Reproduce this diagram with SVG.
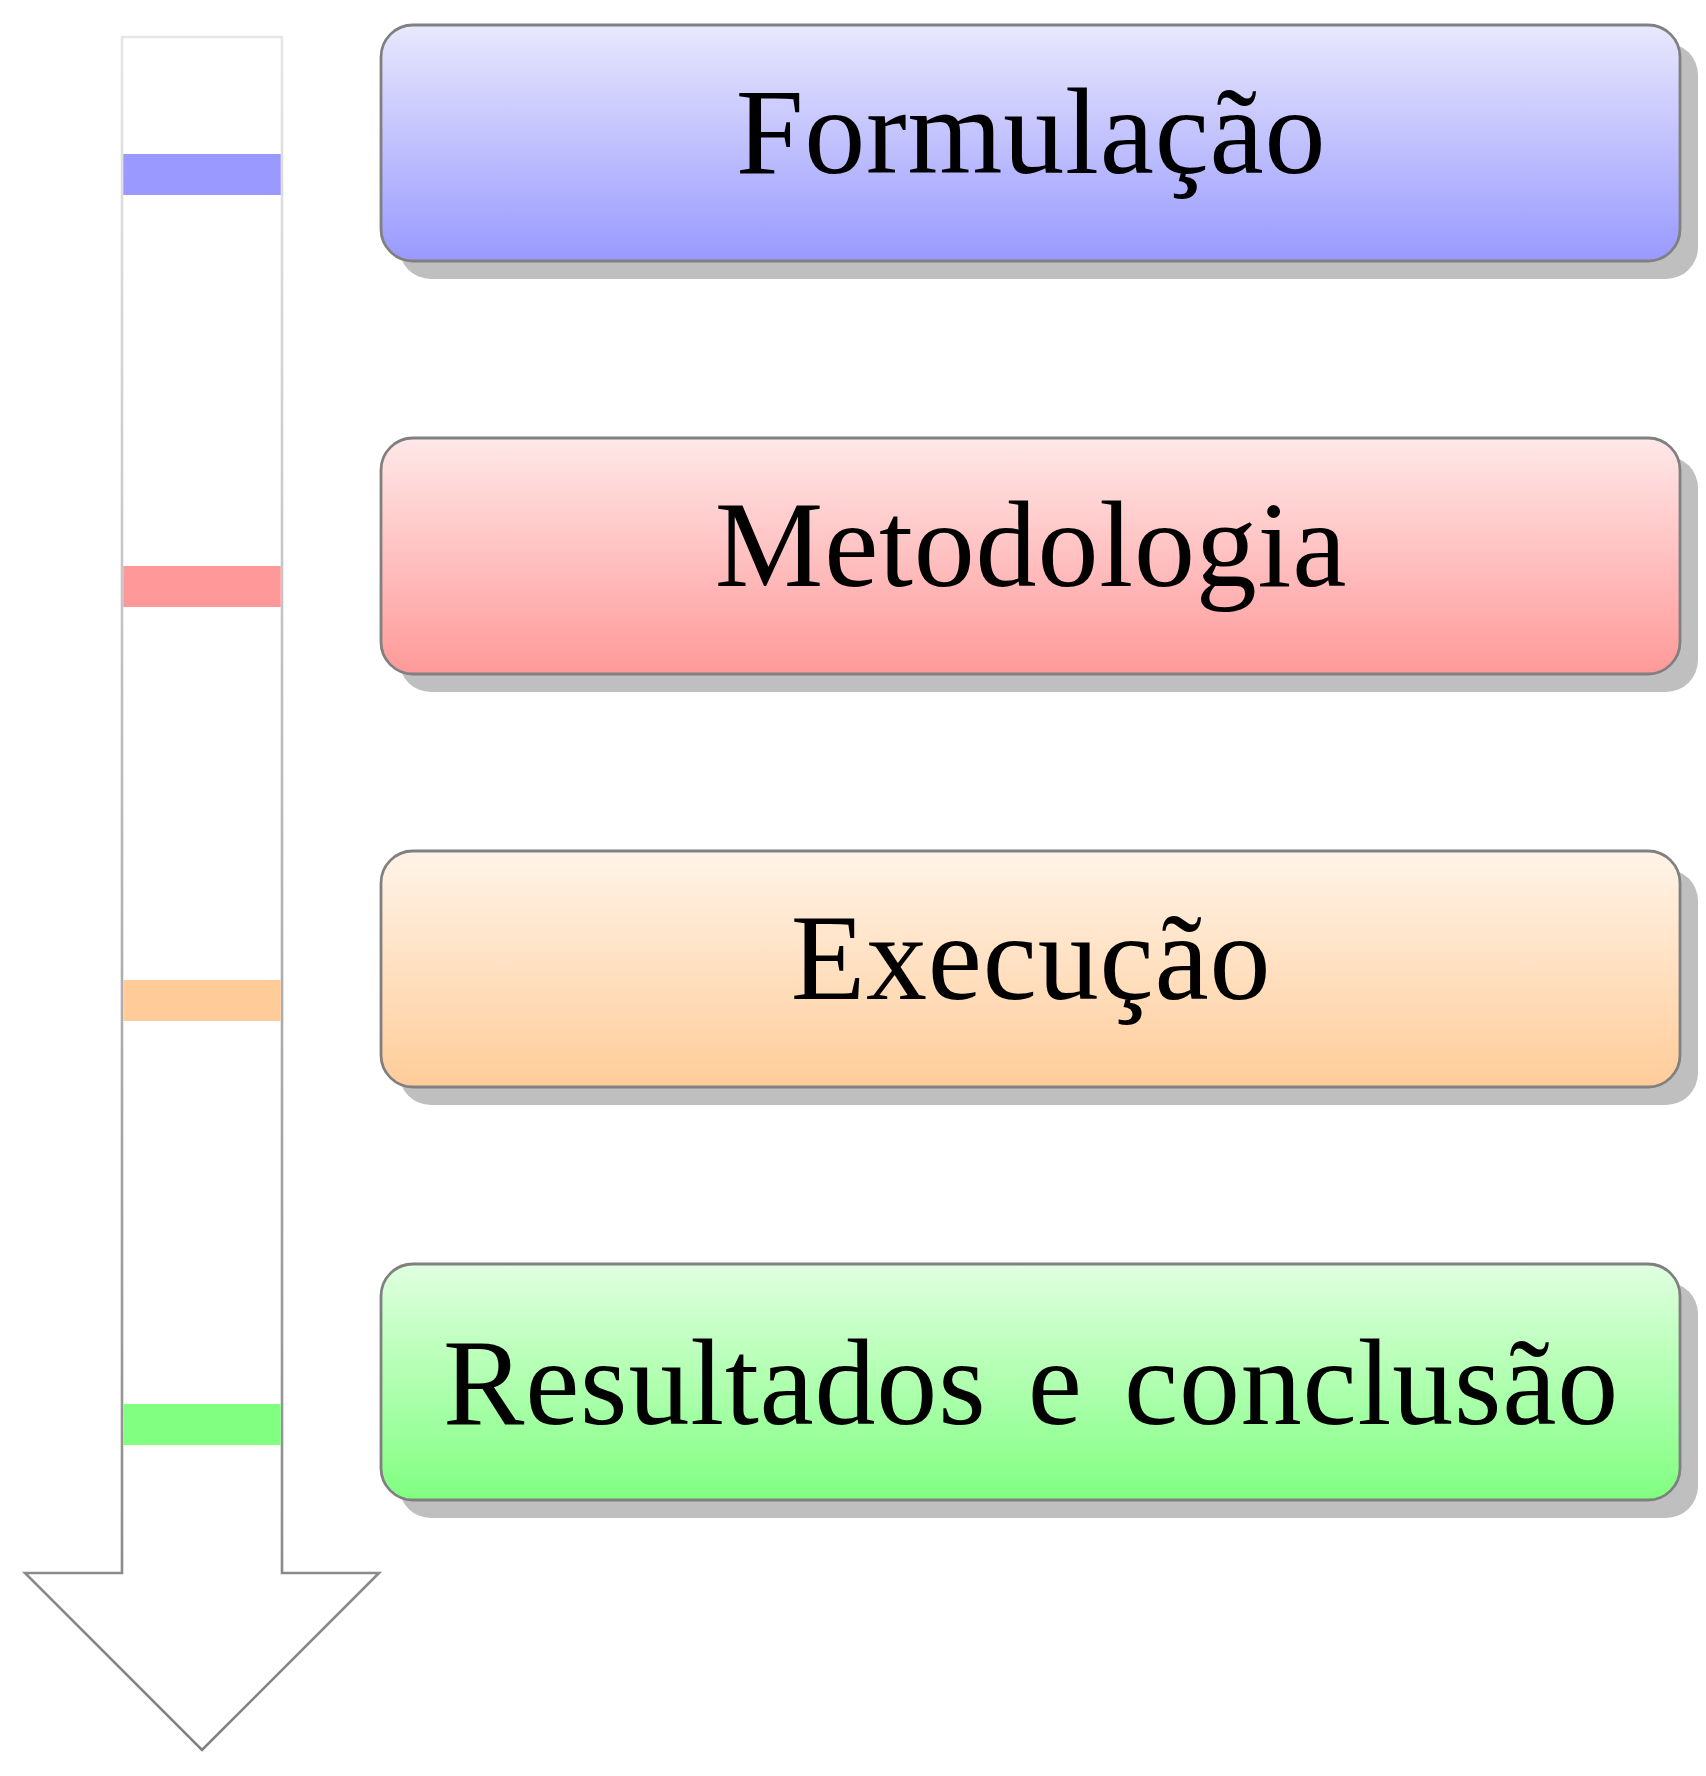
<svg xmlns="http://www.w3.org/2000/svg" width="1706" height="1776" viewBox="0 0 1706 1776">
  <defs>
    <linearGradient id="arrowStroke" gradientUnits="userSpaceOnUse" x1="0" y1="37" x2="0" y2="1750">
      <stop offset="0" stop-color="#e6e6e6"/>
      <stop offset="1" stop-color="#808080"/>
    </linearGradient>
    <linearGradient id="gBlue" x1="0" y1="0" x2="0" y2="1">
      <stop offset="0" stop-color="#e8e8fd"/>
      <stop offset="1" stop-color="#9999ff"/>
    </linearGradient>
    <linearGradient id="gRed" x1="0" y1="0" x2="0" y2="1">
      <stop offset="0" stop-color="#ffe8e8"/>
      <stop offset="1" stop-color="#ff9999"/>
    </linearGradient>
    <linearGradient id="gOrange" x1="0" y1="0" x2="0" y2="1">
      <stop offset="0" stop-color="#fff4e8"/>
      <stop offset="1" stop-color="#ffcc99"/>
    </linearGradient>
    <linearGradient id="gGreen" x1="0" y1="0" x2="0" y2="1">
      <stop offset="0" stop-color="#e0ffe0"/>
      <stop offset="1" stop-color="#80ff80"/>
    </linearGradient>
  </defs>
  <style>
    .shadow { fill: #bfbfbf; }
    .box { stroke: #808080; stroke-width: 2.8; }
    .label { font-family: "Liberation Serif", "DejaVu Serif", serif; font-size: 122px; fill: #000000; text-anchor: middle; letter-spacing: 0.8px; word-spacing: 10px; }
  </style>
  <rect width="1706" height="1776" fill="#ffffff"/>

  <g id="arrow">
    <path d="M122,37 L282,37 L282,1573 L379,1573 L202,1750 L25,1573 L122,1573 Z" fill="#ffffff" stroke="url(#arrowStroke)" stroke-width="2.6"/>
    <rect x="123.3" y="154" width="157.4" height="41" fill="#9999ff"/>
    <rect x="123.3" y="566" width="157.4" height="41" fill="#ff9999"/>
    <rect x="123.3" y="980" width="157.4" height="41" fill="#ffcc99"/>
    <rect x="123.3" y="1404" width="157.4" height="41" fill="#80ff80"/>
  </g>

  <g id="node-formulacao">
    <rect class="shadow" x="399" y="43" width="1299" height="236" rx="32"/>
    <rect class="box" x="381" y="25" width="1299" height="236" rx="32" fill="url(#gBlue)"/>
    <text class="label" x="1031" y="173">Formulação</text>
  </g>

  <g id="node-metodologia">
    <rect class="shadow" x="399" y="456" width="1299" height="236" rx="32"/>
    <rect class="box" x="381" y="438" width="1299" height="236" rx="32" fill="url(#gRed)"/>
    <text class="label" x="1031" y="586">Metodologia</text>
  </g>

  <g id="node-execucao">
    <rect class="shadow" x="399" y="869" width="1299" height="236" rx="32"/>
    <rect class="box" x="381" y="851" width="1299" height="236" rx="32" fill="url(#gOrange)"/>
    <text class="label" x="1031" y="999">Execução</text>
  </g>

  <g id="node-resultados">
    <rect class="shadow" x="399" y="1282" width="1299" height="236" rx="32"/>
    <rect class="box" x="381" y="1264" width="1299" height="236" rx="32" fill="url(#gGreen)"/>
    <text class="label" x="1031" y="1424">Resultados e conclusão</text>
  </g>

  <g id="connectors"></g>
</svg>
